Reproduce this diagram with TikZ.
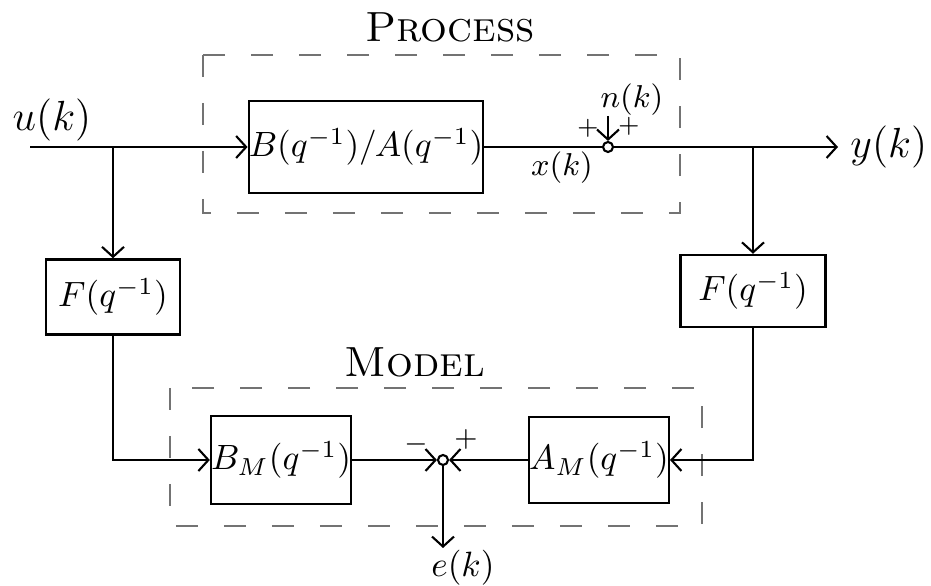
\documentclass[tikz,border=0pt]{standalone}
\usetikzlibrary{arrows.meta}
\begin{document}
\begin{tikzpicture}[x=0.1mm,y=-0.1mm,
    blk/.style={draw,line width=0.7pt,inner sep=0pt,font=\normalsize},
    frame/.style={draw=black!55,dash pattern=on 2.2mm off 2.6mm,line width=0.6pt},
    sig/.style={line width=0.6pt},
    sumdot/.style={draw,circle,line width=0.6pt,inner sep=0pt,minimum size=1mm,fill=white},
    >={Straight Barb[length=1mm,width=2.2mm]}]
  \useasboundingbox (0,0) rectangle (931,586);
  % process
  \draw[frame] (203,55) rectangle (680,213);
  \node[font=\large] (proc) at (450,27) {\textsc{Process}};
  \node[blk,minimum width=22.5mm,minimum height=9.2mm] (plant) at (366,147) {$B(q^{-1})/A(q^{-1})$};
  \node[sumdot] (sum1) at (608,147) {};
  \coordinate (uin) at (30,147);
  \coordinate (ubr) at (113,147);
  \coordinate (ybr) at (753,147);
  \coordinate (yout) at (838,147);
  \coordinate (nin) at (608,116);
  \node[font=\large] (ulbl) at (52,120) {$u(k)$};
  \node[font=\large,anchor=west] (ylbl) at (yout) {$y(k)$};
  \node[font=\small] (nlbl) at (632,100) {$n(k)$};
  \node[font=\small] (xlbl) at (562,168) {$x(k)$};
  \node[font=\scriptsize] (p1) at (588,128) {$+$};
  \node[font=\scriptsize] (p2) at (629,126) {$+$};
  % prefilters
  \node[blk,minimum width=13.4mm,minimum height=7.5mm] (fl) at (113,297) {$F(q^{-1})$};
  \node[blk,minimum width=14.5mm,minimum height=7.2mm] (fr) at (753,291) {$F(q^{-1})$};
  % model
  \draw[frame] (170,388) rectangle (702,526);
  \node[font=\large] (mdl) at (415,362) {\textsc{Model}};
  \node[blk,minimum width=13.8mm,minimum height=8.8mm] (bm) at (281,460) {$B_M(q^{-1})$};
  \node[blk,minimum width=13.2mm,minimum height=8.6mm] (am) at (599,460) {$A_M(q^{-1})$};
  \node[sumdot] (sum2) at (443,460) {};
  \coordinate (eout) at (443,548);
  \node (elbl) at (463,568) {$e(k)$};
  \node[font=\footnotesize] (m2) at (416,444) {$-$};
  \node[font=\footnotesize] (p3) at (466,439) {$+$};
  % signals
  \draw[sig,->] (uin) -- (plant);
  \draw[sig] (plant) -- (sum1);
  \draw[sig,->] (nin) -- (sum1);
  \draw[sig,->] (sum1) -- (yout);
  \draw[sig,->] (ubr) -- (fl);
  \draw[sig,->] (ybr) -- (fr);
  \draw[sig,->] (fl) |- (bm);
  \draw[sig,->] (fr) |- (am);
  \draw[sig,->] (bm) -- (sum2);
  \draw[sig,->] (am) -- (sum2);
  \draw[sig,->] (sum2) -- (eout);
\end{tikzpicture}
\end{document}
